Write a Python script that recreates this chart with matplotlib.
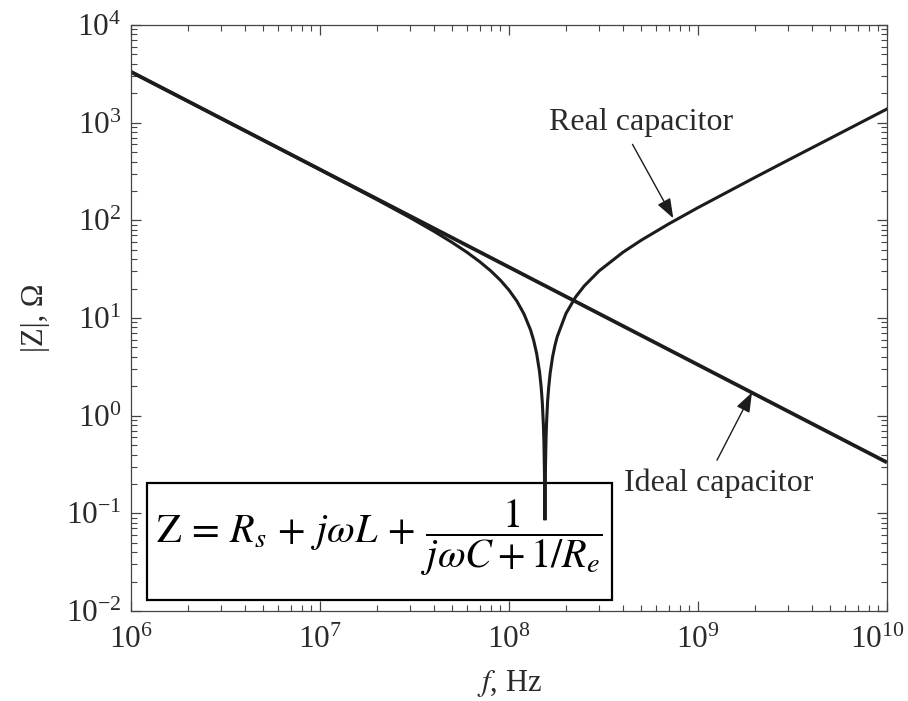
import numpy as np
import matplotlib
matplotlib.use('Agg')
import matplotlib.pyplot as plt
from matplotlib.patches import Rectangle
from matplotlib.transforms import ScaledTranslation
from matplotlib.ticker import LogLocator, NullFormatter

plt.rcParams['font.family'] = ['Liberation Serif', 'DejaVu Serif']
plt.rcParams['mathtext.fontset'] = 'stix'

# Ideal capacitor: straight line on log-log axes (end points)
f_ideal = [1e6, 1e10]
z_ideal = [3316, 0.332]

# Real capacitor |Z| (dense around the resonance dip)
f_real = [1e6, 2e6, 5e6, 1e7, 2e7, 3e7, 4e7, 5e7, 6e7, 7e7, 8e7, 9e7,
          1e8, 1.1e8, 1.2e8, 1.3e8, 1.35e8, 1.4e8, 1.45e8, 1.48e8, 1.5e8,
          1.52e8, 1.53e8, 1.54e8, 1.549e8, 1.56e8, 1.57e8, 1.58e8, 1.6e8,
          1.62e8, 1.65e8, 1.7e8, 1.75e8, 1.8e8, 2e8, 2.25e8, 2.5e8, 3e8,
          4e8, 5e8, 7e8, 1e9, 2e9, 3e9, 5e9, 7e9, 1e10]
z_real = [3316, 1658, 662, 330, 163, 106.4, 77.4, 59.4, 47.0, 37.7, 30.4, 24.4,
          19.3, 14.9, 11.0, 7.54, 5.90, 4.33, 2.83, 1.94, 1.37,
          0.80, 0.53, 0.255, 0.085, 0.32, 0.59, 0.85, 1.40,
          1.92, 2.71, 4.00, 5.24, 6.46, 11.1, 16.4, 21.3, 30.4,
          47.0, 62.5, 92.0, 135, 275, 414, 690, 967, 1382]

x_ticks = [1e6, 1e7, 1e8, 1e9, 1e10]
y_ticks = [1e-2, 1e-1, 1e0, 1e1, 1e2, 1e3, 1e4]

LINE = '#1c1c1c'
TXT = '#2a2a2a'

fig = plt.figure(figsize=(9.08, 7.01), dpi=100)
ax = fig.add_axes([0.1443, 0.1284, 0.8326, 0.8359])

ax.plot(f_ideal, z_ideal, color=LINE, lw=2.7, solid_capstyle='butt')
ax.plot(f_real, z_real, color=LINE, lw=2.2, solid_joinstyle='miter')

ax.set_xscale('log')
ax.set_yscale('log')
ax.set_xticks(x_ticks)
ax.set_yticks(y_ticks)
ax.set_xlim(1e6, 1e10)
ax.set_ylim(1e-2, 1e4)

ax.tick_params(which='both', direction='in', top=True, right=True,
               labelsize=22.5, labelcolor=TXT, color='#444444')
ax.tick_params(axis='x', pad=11)
ax.tick_params(axis='y', pad=7)
ax.tick_params(which='major', length=7, width=0.9)
ax.tick_params(which='minor', length=4, width=0.8)
for axis in (ax.xaxis, ax.yaxis):
    axis.set_minor_locator(LogLocator(base=10, subs=np.arange(2, 10), numticks=20))
    axis.set_minor_formatter(NullFormatter())
for s in ax.spines.values():
    s.set_linewidth(0.9)
    s.set_color('#444444')

# keep the last x label inside the figure
lab = ax.get_xticklabels()[-1]
lab.set_transform(lab.get_transform() + ScaledTranslation(-10 / 100, 0, fig.dpi_scale_trans))

ax.set_xlabel(r'$f$, Hz', fontsize=22, color=TXT, labelpad=9)
ax.set_ylabel('|Z|, Ω', fontsize=22, color=TXT, labelpad=11)

# annotations
arrow = dict(arrowstyle='-|>,head_length=0.6,head_width=0.22', mutation_scale=20,
             color=LINE, lw=1.0, shrinkA=0, shrinkB=0)
ax.text(5.0e8, 1.0e3, 'Real capacitor', fontsize=23, color=TXT, ha='center', va='center')
ax.annotate('', xy=(7.4e8, 105), xytext=(4.5e8, 600), arrowprops=arrow)
ax.text(1.28e9, 0.203, 'Ideal capacitor', fontsize=23, color=TXT, ha='center', va='center')
ax.annotate('', xy=(1.93e9, 1.73), xytext=(1.26e9, 0.35), arrowprops=arrow)

# equation box
ax.add_patch(Rectangle((0.021, 0.019), 0.615, 0.199, transform=ax.transAxes,
                       fill=False, edgecolor='black', lw=1.6))
ax.text(0.329, 0.125, r'$\mathrm{Z}\,=\,R_s\,+\,j\omega L\,+\,\dfrac{1}{j\omega C+1/R_e}$',
        transform=ax.transAxes, fontsize=29, ha='center', va='center', color='black')

plt.savefig('out.png', dpi=100)
